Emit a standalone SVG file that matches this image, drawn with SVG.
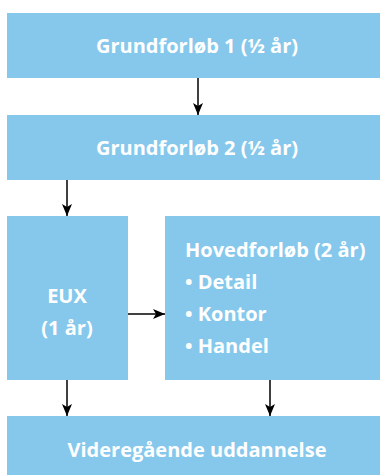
<svg xmlns="http://www.w3.org/2000/svg" width="380" height="475" viewBox="0 0 380 475">
<defs>
<marker id="ah" markerWidth="12" markerHeight="10" refX="12" refY="5" orient="auto" markerUnits="userSpaceOnUse">
<path d="M0,0 L12,5 L0,10 L3,5 Z" fill="#000"/>
</marker>
<style>
.box{fill:#86C8EC}
.t{fill:#fff;font-family:"Open Sans","Noto Sans",sans-serif;font-weight:bold;font-size:20px}
.c{text-anchor:middle}
.e{stroke:#000;stroke-width:1.5;fill:none;marker-end:url(#ah)}
</style>
</defs>
<rect width="380" height="475" fill="#fff"/>
<g id="n1"><rect class="box" x="7" y="13" width="373" height="65"/><text class="t c" x="197" y="53">Grundforløb 1 (½ år)</text></g>
<g id="n2"><rect class="box" x="7" y="115" width="373" height="65"/><text class="t c" x="197" y="155">Grundforløb 2 (½ år)</text></g>
<g id="n3"><rect class="box" x="7" y="216" width="121" height="164"/><text class="t c" x="67" y="303">EUX</text><text class="t c" x="67" y="335">(1 år)</text></g>
<g id="n4"><rect class="box" x="165" y="216" width="215" height="164"/><text class="t" x="185" y="257">Hovedforløb (2 år)</text><text class="t" x="185" y="289">• Detail</text><text class="t" x="185" y="321">• Kontor</text><text class="t" x="185" y="353">• Handel</text></g>
<g id="n5"><rect class="box" x="7" y="416" width="373" height="59"/><text class="t c" x="197" y="457">Videregående uddannelse</text></g>
<g id="edges">
<line class="e" x1="198" y1="78" x2="198" y2="115"/>
<line class="e" x1="67" y1="180" x2="67" y2="216"/>
<line class="e" x1="128" y1="314" x2="165" y2="314"/>
<line class="e" x1="67" y1="380" x2="67" y2="416"/>
<line class="e" x1="270" y1="380" x2="270" y2="416"/>
</g>
</svg>
